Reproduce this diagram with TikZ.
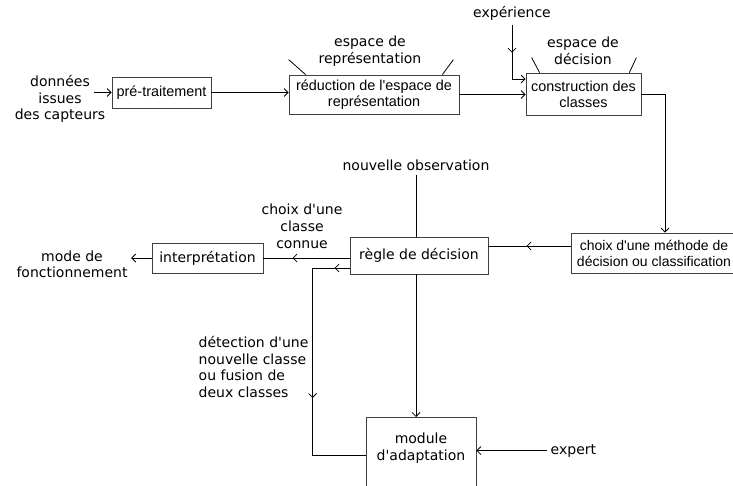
\documentclass[tikz,border=0pt]{standalone}
\usepackage{fontspec}
\newfontfamily\dejavu{DejaVu Sans}
\newfontfamily\arialfont{Liberation Sans}
\usetikzlibrary{arrows.meta,decorations.markings}

\begin{document}
\begin{tikzpicture}[x=1pt,y=-1pt,line width=0.8pt,>={Straight Barb[length=4pt,width=8pt]},
    txt/.style={align=center,anchor=base,font=\dejavu\fontsize{14}{16.5}\selectfont},
    box/.style={draw=black!75,inner sep=0pt,align=center},
    abox/.style={box,font=\arialfont\fontsize{14.4}{16}\selectfont},
    vbox/.style={box,font=\dejavu\fontsize{14}{16.5}\selectfont},
    midarrow/.style={postaction={decorate},decoration={markings,mark=at position #1 with {\arrow{>}}}}]
    \useasboundingbox (0,0) rectangle (733,486);
    \node(pt)[abox,minimum width=99,minimum height=31] at (161.5,92.5) {pré-traitement};
    \node(red)[abox,minimum width=170,minimum height=39] at (374,94.5) {réduction de l'espace de\\représentation};
    \node(cc)[abox,minimum width=115,minimum height=42] at (583.5,94) {construction des\\classes};
    \node(cm)[abox,font=\arialfont\fontsize{14}{16}\selectfont,minimum width=166,minimum height=40] at (654,253) {choix d'une méthode de\\décision ou classification};
    \node(rd)[vbox,minimum width=138,minimum height=37] at (419,255.5) {règle de décision};
    \node(ip)[vbox,minimum width=111,minimum height=30] at (207.5,258) {interprétation};
    \node(ma)[vbox,minimum width=110,minimum height=113,anchor=north] at (421,417) {module\\d'adaptation\\[38pt]\mbox{}};
    \node(don)[txt] at (60,120) {données\\issues\\des capteurs};
    \node(esr)[txt] at (370,63.5) {espace de\\représentation};
    \node(exp)[txt] at (512,18) {expérience};
    \node(esd)[txt] at (583,64.5) {espace de\\décision};
    \node(nobs)[txt] at (416,171) {nouvelle observation};
    \node(ccl)[txt] at (302,248) {choix d'une\\classe\\connue};
    \node(mode)[txt] at (72,277.5) {mode de\\fonctionnement};
    \node(det)[txt,align=left,anchor=base west] at (195,397) {détection d'une\\nouvelle classe\\ou fusion de\\deux classes};
    \node(expt)[txt,anchor=base west] at (547,454) {expert};
    \coordinate(din) at (94,92.5);
    \draw [->] (din)--(pt.west);
    \draw [->] (pt.east)--(pt.east -| red.west);
    \draw [->] (red.east)--(red.east -| cc.west);
    \draw [->,midarrow=28pt] (exp.south) |- ([yshift=15pt]cc.west);
    \draw ([xshift=17pt]red.north west)--++(-17,-15);
    \draw ([xshift=-17pt]red.north east)--++(11,-15);
    \draw ([xshift=14pt]cc.north west)--++(-8,-15);
    \draw ([xshift=-12pt]cc.north east)--++(7,-15);
    \draw [->] (cc.east) -| ([xshift=11pt]cm.north);
    \draw [midarrow=44pt] ([yshift=7pt]cm.west)--([yshift=7pt]cm.west -| rd.east);
    \draw (nobs.south)--(nobs.south |- rd.north);
    \draw [midarrow=57pt] (ip.east -| rd.west)--(ip.east);
    \draw [->] (ip.west)--(ip.west -| mode.east);
    \draw [->] (rd.south -| nobs.south)--(ma.north -| nobs.south);
    \draw [postaction={decorate},decoration={markings,mark=at position 15pt with {\arrow{>}},mark=at position 167pt with {\arrow{>}}}] ([yshift=-12.5pt]rd.west)--++(-37,0) |- ([yshift=-38pt]ma.north west);
    \draw [->] (expt.west)--(expt.west -| ma.east);
\end{tikzpicture}
\end{document}
